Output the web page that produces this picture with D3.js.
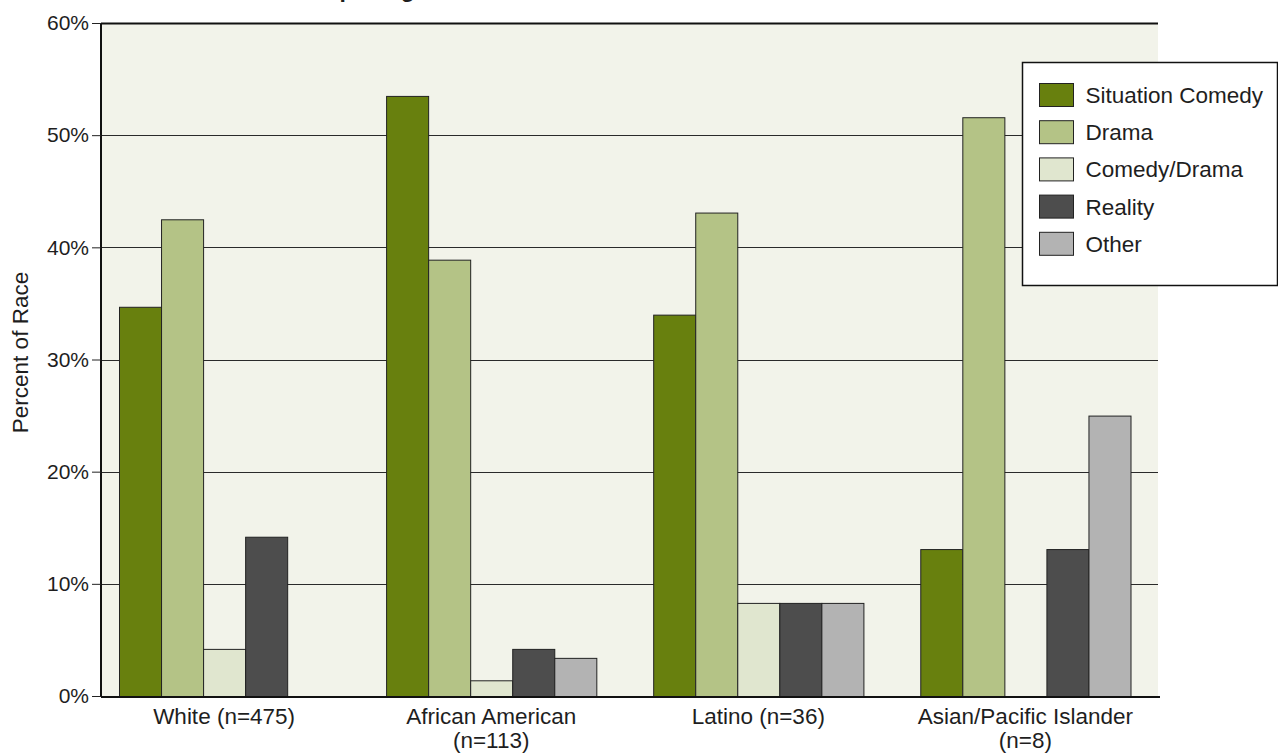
<!DOCTYPE html>
<html>
<head>
<meta charset="utf-8">
<script src="https://cdn.jsdelivr.net/npm/d3@7/dist/d3.min.js"></script>
<style>
  html, body { margin: 0; padding: 0; background: #ffffff; }
  svg { display: block; }
  text { font-family: "Liberation Sans", Arial, Helvetica, sans-serif; fill: #1e1e1e; }
</style>
</head>
<body>
<svg id="chart" width="1278" height="754"></svg>
<script>
// Share of each race's opening-credits characters by program genre (percent)
const categories = ["White (n=475)", "African American\n(n=113)", "Latino (n=36)", "Asian/Pacific Islander\n(n=8)"];
const genres = ["Situation Comedy", "Drama", "Comedy/Drama", "Reality", "Other"];
const situationComedy = [34.7, 53.5, 34.0, 13.1];
const drama = [42.5, 38.9, 43.1, 51.6];
const comedyDrama = [4.2, 1.4, 8.3, 0];
const reality = [14.2, 4.2, 8.3, 13.1];
const other = [0, 3.4, 8.3, 25.0];
const yTicks = [0, 10, 20, 30, 40, 50, 60];
const genreColors = ["#68800e", "#b4c386", "#e0e6cf", "#4d4d4d", "#b3b3b3"];

const seriesValues = [situationComedy, drama, comedyDrama, reality, other];

const svg = d3.select("#chart");

const plot = { left: 101, right: 1158, top: 23, bottom: 696 };

const y = d3.scaleLinear().domain([0, 60]).range([plot.bottom, plot.top]);
const x0 = d3.scaleBand().domain(categories).range([119, 1130.5]).paddingInner(0.2129).paddingOuter(0);
const x1 = d3.scaleBand().domain(genres).range([0, x0.bandwidth()]).padding(0);
const color = d3.scaleOrdinal().domain(genres).range(genreColors);

// Title (runs off the top edge of the canvas)
svg.append("text")
  .attr("x", 112).attr("y", -3)
  .attr("font-size", 23).attr("font-weight", "bold")
  .text("Genre and Race of Opening Credits Characters");

// Plot background
svg.append("rect")
  .attr("x", plot.left).attr("y", plot.top)
  .attr("width", plot.right - plot.left).attr("height", plot.bottom - plot.top)
  .attr("fill", "#f2f3ea");

// Horizontal gridlines
svg.append("g").selectAll("line")
  .data(yTicks.filter(d => d > 0))
  .join("line")
  .attr("x1", plot.left).attr("x2", plot.right)
  .attr("y1", d => Math.round(y(d)) + 0.5).attr("y2", d => Math.round(y(d)) + 0.5)
  .attr("stroke", "#2a2a2a").attr("stroke-width", 1);

// Bars
const rows = categories.map((c, i) => ({ category: c, values: genres.map((g, j) => ({ genre: g, value: seriesValues[j][i] })) }));

const groups = svg.append("g").selectAll("g")
  .data(rows)
  .join("g")
  .attr("transform", d => `translate(${x0(d.category)},0)`);

groups.selectAll("rect")
  .data(d => d.values.filter(v => v.value > 0))
  .join("rect")
  .attr("x", d => x1(d.genre) + 0.5)
  .attr("y", d => y(d.value) + 0.5)
  .attr("width", x1.bandwidth())
  .attr("height", d => y(0) - y(d.value))
  .attr("fill", d => color(d.genre))
  .attr("stroke", "#222")
  .attr("stroke-width", 1);

// Y axis
const yAxis = d3.axisLeft(y)
  .tickValues(yTicks)
  .tickFormat(d => d + "%")
  .tickSize(9)
  .tickPadding(3);

const yg = svg.append("g")
  .attr("transform", `translate(${plot.left},0)`)
  .call(yAxis);
yg.select(".domain").attr("stroke", "#111").attr("stroke-width", 2).attr("d", `M0,${plot.top}V${plot.bottom}`);
yg.selectAll(".tick line").attr("stroke", "#222");
yg.selectAll(".tick text")
  .attr("font-size", 21)
  .attr("font-family", "\"Liberation Sans\", Arial, sans-serif")
  .attr("fill", "#1e1e1e");

// Top border line at 60%
svg.append("line")
  .attr("x1", plot.left).attr("x2", plot.right)
  .attr("y1", y(60) + 0.5).attr("y2", y(60) + 0.5)
  .attr("stroke", "#111").attr("stroke-width", 2);

// X axis baseline and category labels
svg.append("line")
  .attr("x1", plot.left).attr("x2", plot.right + 2)
  .attr("y1", y(0) + 1).attr("y2", y(0) + 1)
  .attr("stroke", "#111").attr("stroke-width", 2);

const xLabels = svg.append("g").selectAll("text")
  .data(categories)
  .join("text")
  .attr("x", d => x0(d) + x0.bandwidth() / 2)
  .attr("y", 724)
  .attr("text-anchor", "middle")
  .attr("font-size", 22.5);
xLabels.selectAll("tspan")
  .data(d => d.split("\n"))
  .join("tspan")
  .attr("x", function () { return d3.select(this.parentNode).attr("x"); })
  .attr("dy", (d, i) => i === 0 ? 0 : 24)
  .text(d => d);

// Y axis title
svg.append("text")
  .attr("transform", `translate(28,${(plot.top + plot.bottom) / 2 - 7}) rotate(-90)`)
  .attr("text-anchor", "middle")
  .attr("font-size", 22.5)
  .text("Percent of Race");

// Legend
const legend = svg.append("g").attr("transform", "translate(1022.5,62.5)");
legend.append("rect")
  .attr("width", 255).attr("height", 223)
  .attr("fill", "#ffffff").attr("stroke", "#111").attr("stroke-width", 1.5);

const items = legend.selectAll("g.item")
  .data(genres)
  .join("g")
  .attr("class", "item")
  .attr("transform", (d, i) => `translate(17,${21 + i * 37.2})`);
items.append("rect")
  .attr("width", 34).attr("height", 23)
  .attr("fill", d => color(d))
  .attr("stroke", "#222").attr("stroke-width", 1);
items.append("text")
  .attr("x", 46).attr("y", 19.5)
  .attr("font-size", 22.5)
  .text(d => d);
</script>
</body>
</html>
